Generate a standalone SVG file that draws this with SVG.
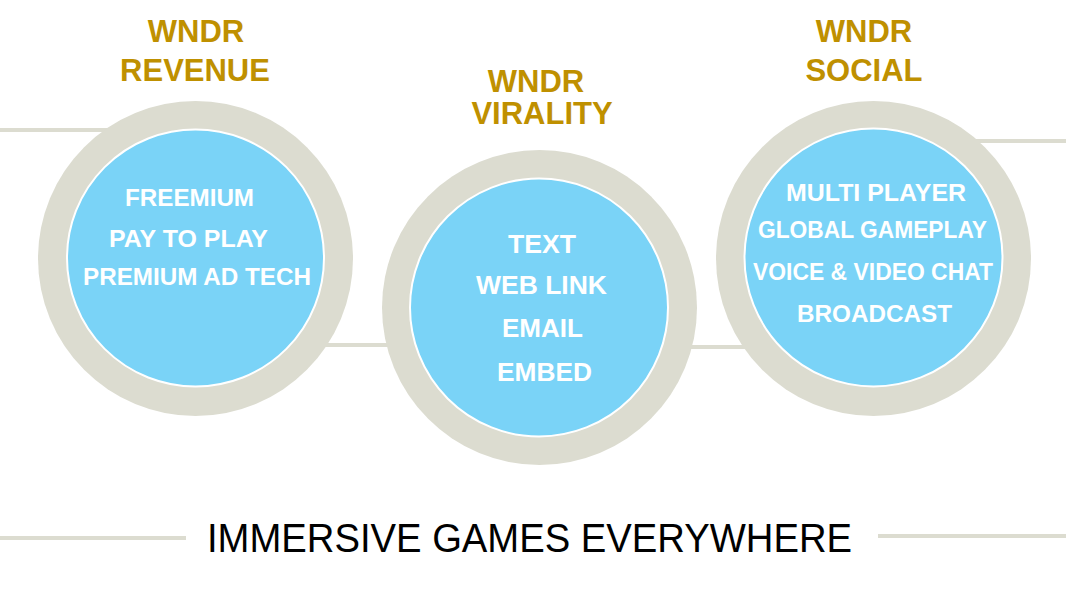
<svg xmlns="http://www.w3.org/2000/svg" width="1066" height="596" viewBox="0 0 1066 596">
<style>
.ring{fill:#DCDCD0}
.core{fill:#7AD3F7;stroke:#FFFFFF;stroke-width:2}
.conn{stroke:#DCDCD0;stroke-width:4;fill:none}
.title{font-family:"Liberation Sans",Arial,sans-serif;font-weight:bold;font-size:31px;fill:#BF9000;text-anchor:middle}
.item{font-family:"Liberation Sans",Arial,sans-serif;font-weight:bold;fill:#FFFFFF;text-anchor:middle}
.tag{font-family:"Liberation Sans",Arial,sans-serif;font-size:40px;fill:#000000}
</style>
<rect width="1066" height="596" fill="#FFFFFF"/>
<g id="connectors">
<line class="conn" x1="0" y1="130" x2="195" y2="130"/>
<line class="conn" x1="195" y1="345" x2="539" y2="345"/>
<line class="conn" x1="539" y1="347" x2="873" y2="347"/>
<line class="conn" x1="873" y1="141" x2="1066" y2="141"/>
<line class="conn" x1="0" y1="538" x2="186" y2="538"/>
<line class="conn" x1="878" y1="536" x2="1066" y2="536"/>
</g>
<g id="revenue">
<circle class="ring" cx="195.5" cy="258.5" r="157.5"/>
<circle class="core" cx="195.5" cy="258" r="128.5"/>
<text class="title" x="196" y="42">WNDR</text>
<text class="title" x="195" y="81">REVENUE</text>
<g class="item" font-size="24">
<text x="189.5" y="206" textLength="129" lengthAdjust="spacingAndGlyphs">FREEMIUM</text>
<text x="188.5" y="247" textLength="159" lengthAdjust="spacingAndGlyphs">PAY TO PLAY</text>
<text x="197" y="285" textLength="228" lengthAdjust="spacingAndGlyphs">PREMIUM AD TECH</text>
</g>
</g>
<g id="virality">
<circle class="ring" cx="539.5" cy="307.5" r="157.5"/>
<circle class="core" cx="539" cy="307.5" r="129"/>
<text class="title" x="536" y="92">WNDR</text>
<text class="title" x="542" y="124">VIRALITY</text>
<g class="item" font-size="26">
<text x="542" y="253" textLength="68" lengthAdjust="spacingAndGlyphs">TEXT</text>
<text x="541.5" y="294" textLength="131" lengthAdjust="spacingAndGlyphs">WEB LINK</text>
<text x="542.5" y="337" textLength="81" lengthAdjust="spacingAndGlyphs">EMAIL</text>
<text x="544.5" y="381" textLength="95" lengthAdjust="spacingAndGlyphs">EMBED</text>
</g>
</g>
<g id="social">
<circle class="ring" cx="873.5" cy="258.5" r="157.5"/>
<circle class="core" cx="873.5" cy="257.5" r="129"/>
<text class="title" x="864" y="42">WNDR</text>
<text class="title" x="864" y="81">SOCIAL</text>
<g class="item" font-size="23">
<text x="876" y="201" textLength="180" lengthAdjust="spacingAndGlyphs">MULTI PLAYER</text>
<text x="872.5" y="238" textLength="229" lengthAdjust="spacingAndGlyphs">GLOBAL GAMEPLAY</text>
<text x="873" y="280" textLength="240" lengthAdjust="spacingAndGlyphs">VOICE &amp; VIDEO CHAT</text>
<text x="874.5" y="322" textLength="155" lengthAdjust="spacingAndGlyphs">BROADCAST</text>
</g>
</g>
<g id="tagline">
<text class="tag" x="207" y="552" textLength="645" lengthAdjust="spacingAndGlyphs">IMMERSIVE GAMES EVERYWHERE</text>
</g>
</svg>
